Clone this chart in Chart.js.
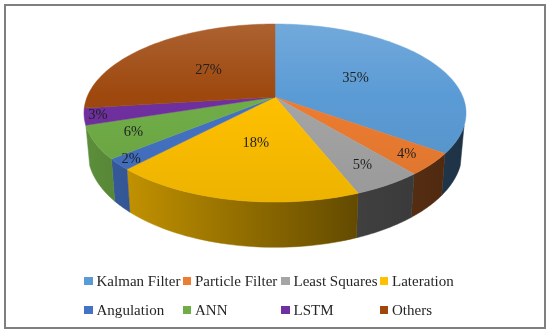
<!DOCTYPE html>
<html>
<head>
<meta charset="utf-8">
<script src="https://cdn.jsdelivr.net/npm/chart.js@4"></script>
<style>
  html, body { margin: 0; background: #fff; }
  #wrap { position: relative; width: 550px; height: 332px; overflow: hidden; }
  #frame { position: absolute; left: 4px; top: 4px; width: 538px; height: 321px; border: 2px solid #7f7f7f; }
  canvas { position: absolute; left: 0; top: 0; }
  #legend { position: absolute; left: 84px; top: 271px; display: grid;
    grid-template-columns: repeat(4, 98.5px); grid-auto-rows: 29px;
    font: 15px "Liberation Serif", serif; letter-spacing: 0.02px; color: #262626; white-space: nowrap; }
  #legend div { display: flex; align-items: center; height: 20px; }
  #legend i { width: 8.5px; height: 8.5px; margin-right: 4px; flex: none; }
</style>
</head>
<body>
<div id="wrap">
  <div id="frame"></div>
  <canvas id="c" width="550" height="332"></canvas>
  <div id="legend"></div>
</div>
<script>
const categories = ["Kalman Filter", "Particle Filter", "Least Squares", "Lateration", "Angulation", "ANN", "LSTM", "Others"];
const shares = [35, 4, 5, 18, 2, 6, 3, 27];
const colors = ["#5b9bd5", "#ed7d31", "#a5a5a5", "#ffc000", "#4472c4", "#70ad47", "#7030a0", "#9e480e"];
// how far out the % label sits, small slices go near the rim
const labelRadius = [0.5, 0.86, 0.8, 0.5, 0.93, 0.8, 0.93, 0.5];

// perspective of the tilted disc
const CX = 275, P = 0.18, RX = 187.9, RY = 68.68, APEX = 97;
const EDGE = 0.32; // rim is visible between EDGE and PI-EDGE

function project(a, r) {
  const u = Math.cos(a) * r, v = Math.sin(a) * r, w = 1 - P * v;
  return { x: CX + RX * u / w, y: (RY * v + APEX) / w };
}
// same rim point on the lower face
function lower(pt) {
  return { x: CX + (pt.x - CX) * 0.98, y: 152 + (pt.y - 113) * 1.07 };
}
function shade(hex, f) {
  const n = parseInt(hex.slice(1), 16);
  const ch = [n >> 16, (n >> 8) & 255, n & 255].map(c =>
    Math.round(f < 1 ? c * f : c + (255 - c) * (f - 1)));
  return `rgb(${ch.join(",")})`;
}

const pie3d = {
  id: "pie3d",
  beforeDatasetsDraw(chart) {
    const ctx = chart.ctx;
    const arcs = chart.getDatasetMeta(0).data;

    // side wall first, dark to the right
    arcs.forEach((arc, i) => {
      const a0 = Math.max(arc.startAngle, EDGE);
      const a1 = Math.min(arc.endAngle, Math.PI - EDGE);
      if (a1 <= a0) return;
      const top = [];
      for (let k = 0; k <= 40; k++) top.push(project(a0 + (a1 - a0) * k / 40, 1));
      const grad = ctx.createLinearGradient(88, 0, 463, 0);
      grad.addColorStop(0, shade(colors[i], 0.82));
      grad.addColorStop(0.73, shade(colors[i], 0.38));
      grad.addColorStop(1, shade(colors[i], 0.33));
      ctx.beginPath();
      top.forEach((p, k) => k ? ctx.lineTo(p.x, p.y) : ctx.moveTo(p.x, p.y));
      top.slice().reverse().forEach(p => { const q = lower(p); ctx.lineTo(q.x, q.y); });
      ctx.closePath();
      ctx.fillStyle = grad;
      ctx.strokeStyle = grad;
      ctx.lineWidth = 0.5;
      ctx.fill();
      ctx.stroke();
    });

    // top face, light sheen at the back
    arcs.forEach((arc, i) => {
      const grad = ctx.createLinearGradient(0, 24, 0, 202);
      grad.addColorStop(0, shade(colors[i], 1.14));
      grad.addColorStop(0.4, colors[i]);
      grad.addColorStop(1, shade(colors[i], 0.93));
      const steps = Math.ceil((arc.endAngle - arc.startAngle) * 40);
      ctx.beginPath();
      const c = project(0, 0);
      ctx.moveTo(c.x, c.y);
      for (let k = 0; k <= steps; k++) {
        const p = project(arc.startAngle + (arc.endAngle - arc.startAngle) * k / steps, 1);
        ctx.lineTo(p.x, p.y);
      }
      ctx.closePath();
      ctx.fillStyle = grad;
      ctx.strokeStyle = grad;
      ctx.lineWidth = 0.5;
      ctx.fill();
      ctx.stroke();
    });

    // % labels
    ctx.font = '14.5px "Liberation Serif", serif';
    ctx.fillStyle = "#1f1f1f";
    ctx.textAlign = "center";
    ctx.textBaseline = "middle";
    arcs.forEach((arc, i) => {
      const p = project((arc.startAngle + arc.endAngle) / 2, labelRadius[i]);
      ctx.fillText(shares[i] + "%", p.x, p.y);
    });
    return false;
  }
};

new Chart(document.getElementById("c"), {
  type: "pie",
  data: {
    labels: categories,
    datasets: [{ data: shares, backgroundColor: colors, borderWidth: 0 }]
  },
  options: {
    responsive: false,
    animation: false,
    plugins: { legend: { display: false }, tooltip: { enabled: false } }
  },
  plugins: [pie3d]
});

// legend goes in aligned columns, so html instead of the built in one
const legend = document.getElementById("legend");
categories.forEach((name, i) => {
  const item = document.createElement("div");
  const box = document.createElement("i");
  box.style.background = colors[i];
  item.appendChild(box);
  item.appendChild(document.createTextNode(name));
  legend.appendChild(item);
});
</script>
</body>
</html>
